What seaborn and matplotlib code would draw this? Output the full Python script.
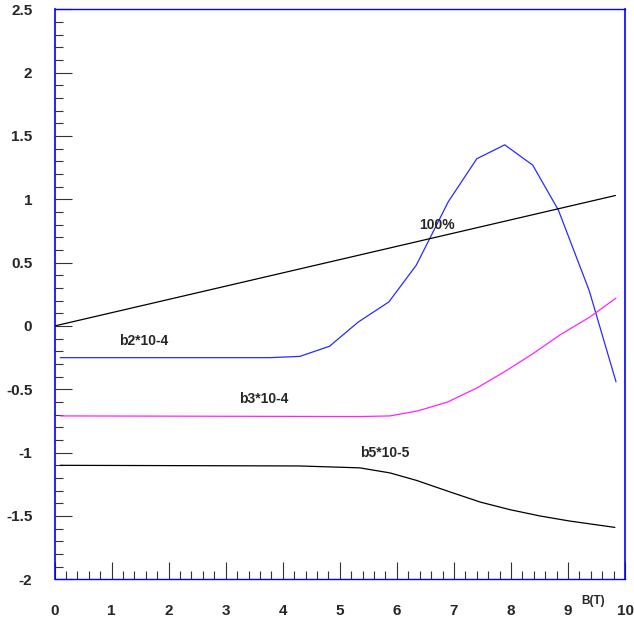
import matplotlib
matplotlib.use("Agg")
import matplotlib.pyplot as plt
from matplotlib.ticker import MultipleLocator
import seaborn as sns
import pandas as pd

# Field dependence of the harmonic coefficients versus B(T)
b2_x = [0.1, 3.78, 4.3, 4.82, 5.32, 5.86, 6.34, 6.9, 7.4, 7.89, 8.38, 8.83, 9.37, 9.84]
b2_y = [-0.25, -0.25, -0.24, -0.16, 0.03, 0.19, 0.48, 0.98, 1.32, 1.43, 1.27, 0.915, 0.28, -0.44]

b3_x = [0.1, 5.35, 5.88, 6.37, 6.89, 7.40, 7.89, 8.38, 8.86, 9.38, 9.84]
b3_y = [-0.71, -0.715, -0.71, -0.67, -0.60, -0.49, -0.36, -0.22, -0.07, 0.07, 0.22]

b5_x = [0.1, 4.29, 5.35, 5.88, 6.35, 6.93, 7.46, 7.98, 8.51, 9.03, 9.82]
b5_y = [-1.10, -1.105, -1.12, -1.16, -1.22, -1.31, -1.39, -1.45, -1.50, -1.54, -1.59]

ref_x = [0.0, 9.83]
ref_y = [0.0, 1.03]

labels = ["b2*10-4", "b3*10-4", "b5*10-5", "100%"]
x_ticks = list(range(0, 11))
y_ticks = [-2, -1.5, -1, -0.5, 0, 0.5, 1, 1.5, 2, 2.5]
y_tick_labels = ["-2", "-1.5", "-1", "-0.5", "0", "0.5", "1", "1.5", "2", "2.5"]

sns.set_style("white")
plt.rcParams["font.family"] = ["Liberation Sans", "DejaVu Sans"]

series = [
    (b2_x, b2_y, "#2a2aff"),
    (b3_x, b3_y, "#ff22ff"),
    (b5_x, b5_y, "black"),
    (ref_x, ref_y, "black"),
]

fig = plt.figure(figsize=(6.34, 6.23), dpi=100)
ax = fig.add_axes([0.086, 0.0701, 0.9, 0.915])

for xs, ys, col in series:
    df = pd.DataFrame({"B": xs, "v": ys})
    sns.lineplot(data=df, x="B", y="v", ax=ax, color=col, linewidth=0.9,
                 sort=False, estimator=None)

ax.set_xlim(0, 10)
ax.set_ylim(-2, 2.5)
ax.set_xlabel("")
ax.set_ylabel("")

ax.set_xticks(x_ticks)
ax.set_xticklabels([str(t) for t in x_ticks])
ax.set_yticks(y_ticks)
ax.set_yticklabels(y_tick_labels)
ax.xaxis.set_minor_locator(MultipleLocator(0.2))
ax.yaxis.set_minor_locator(MultipleLocator(0.1))

ax.tick_params(axis="both", which="both", bottom=True, left=True, top=False, right=False)
ax.tick_params(axis="both", which="major", direction="in", length=12.2, width=0.8,
               color="#333333", labelsize=11)
ax.tick_params(axis="both", which="minor", direction="in", length=6, width=0.8,
               color="#333333")
ax.tick_params(axis="x", which="major", pad=18)
ax.tick_params(axis="y", which="major", pad=16)
for lab in ax.get_xticklabels() + ax.get_yticklabels():
    lab.set_fontweight("bold")

for side, sp in ax.spines.items():
    sp.set_visible(True)
    sp.set_color("#0000ff")
    sp.set_linewidth(1.2 if side in ("left", "right") else 1.0)

text_pos = [(1.57, -0.118), (3.67, -0.576), (5.78, -1.0), (6.70, 0.80)]
for (tx, ty), txt in zip(text_pos, labels):
    ax.text(tx, ty, txt, ha="center", va="center", fontsize=10, fontweight="bold")

ax.text(9.44, -2.17, "B(T)", ha="center", va="center", fontsize=8.5,
        fontweight="bold", clip_on=False)

fig.savefig("out.png", dpi=100)
